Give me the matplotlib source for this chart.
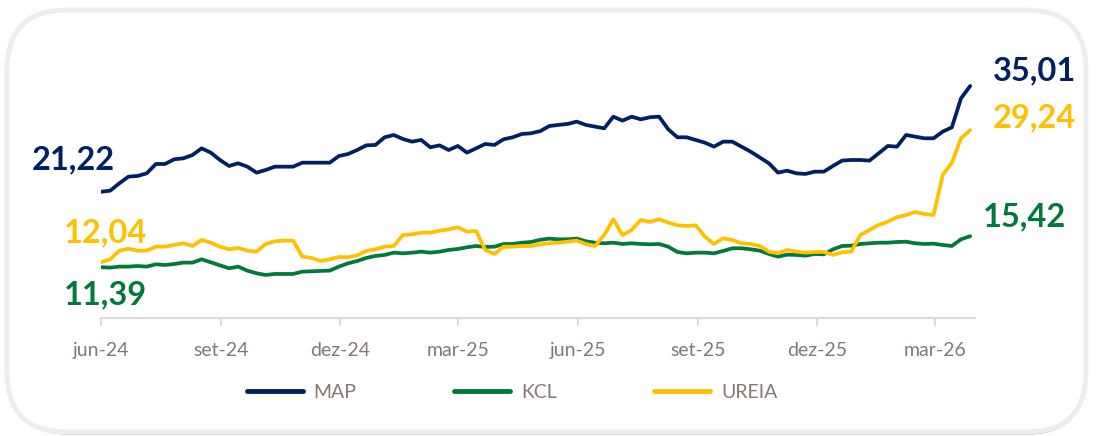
import matplotlib
matplotlib.use("Agg")
import matplotlib.pyplot as plt
from matplotlib.patches import FancyBboxPatch
import pandas as pd

# ---------------- data (weekly readings) ----------------
start_date = "2024-06-01"
n_points = 96

map_values = [
    21.22, 21.36, 22.32, 23.19, 23.28, 23.62, 24.84, 24.84, 25.45, 25.58,
    26.01, 26.88, 26.32, 25.36, 24.58, 24.93, 24.49, 23.71, 24.06, 24.49,
    24.49, 24.49, 25.01, 25.01, 25.01, 25.01, 25.88, 26.14, 26.66, 27.27,
    27.32, 28.32, 28.62, 28.10, 27.75, 27.97, 27.01, 27.27, 26.66, 27.19,
    26.32, 26.88, 27.45, 27.32, 28.06, 28.32, 28.75, 28.84, 29.12, 29.79,
    29.93, 30.06, 30.36, 29.93, 29.71, 29.49, 31.01, 30.49, 31.01, 30.66,
    30.93, 31.01, 29.36, 28.32, 28.32, 27.97, 27.62, 27.10, 27.75, 27.75,
    27.10, 26.45, 25.70, 24.93, 23.71, 23.97, 23.62, 23.54, 23.84, 23.84,
    24.58, 25.28, 25.36, 25.36, 25.28, 26.23, 27.19, 27.10, 28.62, 28.40,
    28.19, 28.19, 29.06, 29.62, 33.40, 35.01,
]

kcl_values = [
    11.39, 11.33, 11.46, 11.46, 11.54, 11.46, 11.76, 11.67, 11.80, 11.98,
    11.98, 12.41, 12.02, 11.63, 11.24, 11.46, 10.93, 10.59, 10.37, 10.50,
    10.50, 10.50, 10.80, 10.85, 10.90, 10.94, 11.46, 11.89, 12.19, 12.59,
    12.85, 12.98, 13.28, 13.19, 13.28, 13.41, 13.28, 13.41, 13.63, 13.76,
    13.98, 14.15, 14.02, 14.06, 14.41, 14.41, 14.58, 14.67, 14.95, 15.11,
    15.02, 15.02, 15.11, 14.76, 14.58, 14.50, 14.58, 14.41, 14.50, 14.41,
    14.37, 14.41, 14.06, 13.37, 13.19, 13.28, 13.28, 13.19, 13.50, 13.85,
    13.85, 13.72, 13.54, 13.11, 12.76, 13.02, 12.98, 12.89, 13.11, 13.06,
    13.71, 14.15, 14.19, 14.41, 14.50, 14.58, 14.58, 14.67, 14.71, 14.50,
    14.41, 14.45, 14.28, 14.15, 15.02, 15.42,
]

ureia_values = [
    12.04, 12.41, 13.54, 13.80, 13.54, 13.54, 14.06, 14.06, 14.28, 14.50,
    14.15, 14.93, 14.58, 14.06, 13.72, 13.89, 13.54, 13.41, 14.41, 14.76,
    14.85, 14.85, 12.76, 12.59, 12.20, 12.41, 12.72, 12.67, 12.93, 13.50,
    13.72, 14.06, 14.15, 15.58, 15.67, 15.89, 15.89, 16.15, 16.32, 16.58,
    16.02, 16.10, 13.63, 13.11, 14.06, 14.06, 14.15, 14.15, 14.35, 14.50,
    14.58, 14.71, 14.85, 14.41, 14.15, 15.58, 17.63, 15.58, 16.24, 17.54,
    17.28, 17.63, 17.19, 16.84, 16.76, 16.84, 15.37, 14.41, 15.15, 14.93,
    14.50, 14.41, 14.15, 13.41, 13.20, 13.63, 13.41, 13.28, 13.37, 13.37,
    12.98, 13.33, 13.41, 15.58, 16.24, 16.89, 17.32, 17.89, 18.19, 18.58,
    18.32, 18.19, 23.41, 25.01, 28.19, 29.24,
]

series_names = ["MAP", "KCL", "UREIA"]
series_colors = ["#002060", "#00793A", "#FFC000"]

tick_dates = ["2024-06-01", "2024-09-01", "2024-12-01", "2025-03-01",
              "2025-06-01", "2025-09-01", "2025-12-01", "2026-03-01"]
tick_labels = ["jun-24", "set-24", "dez-24", "mar-25",
               "jun-25", "set-25", "dez-25", "mar-26"]

# ---------------- figure ----------------
W, H = 1096, 436
fig = plt.figure(figsize=(W / 100, H / 100), dpi=100)
fig.patch.set_facecolor("white")

# rounded card with shadow (display/pixel coords)
shadow = FancyBboxPatch((10, 1), W - 20, H - 13,
                        boxstyle="round,pad=0,rounding_size=60",
                        transform=None, facecolor="#c4c4c4",
                        edgecolor="none", alpha=0.8, zorder=0)
fig.patches.append(shadow)
card = FancyBboxPatch((7, 4), W - 17, H - 14,
                      boxstyle="round,pad=0,rounding_size=60",
                      transform=None, facecolor="white",
                      edgecolor="#ededed", linewidth=3.5, zorder=1)
fig.patches.append(card)

ax = fig.add_axes([101 / W, 1 - 318 / H, 874 / W, (318 - 47.7) / H])
ax.set_facecolor("none")
ax.set_zorder(2)

dates = pd.date_range(start_date, periods=n_points, freq="7D")
all_values = [map_values, kcl_values, ureia_values]

lines = []
for vals, name, col in zip(all_values, series_names, series_colors):
    ln, = ax.plot(dates, vals, color=col, lw=2.7, label=name,
                  solid_joinstyle="round", solid_capstyle="round")
    lines.append(ln)

x0 = pd.Timestamp(start_date)
ax.set_xlim(x0, x0 + pd.Timedelta(days=668.7))
ax.set_ylim(4.76, 40)

for s in ["top", "right", "left"]:
    ax.spines[s].set_visible(False)
ax.spines["bottom"].set_color("#d9d9d9")
ax.spines["bottom"].set_linewidth(1.5)
ax.set_yticks([])
ax.set_xticks(pd.to_datetime(tick_dates))
ax.set_xticklabels(tick_labels)
ax.tick_params(axis="x", length=6, width=1.3, color="#d9d9d9",
               labelcolor="#857873", labelsize=14, pad=11)
for lab in ax.get_xticklabels():
    lab.set_fontfamily("Lato")

# value labels at start and end of each series
label_font = dict(fontfamily="Lato", fontweight="bold", fontsize=23.5)
px2pt = 0.72
start_offsets = [(14, 22), (46, -37), (46, 20)]   # MAP, KCL, UREIA (px)
end_offsets = [(23, 6), (13, 10), (23, 3)]
for vals, col, so, eo in zip(all_values, series_colors, start_offsets, end_offsets):
    first = f"{vals[0]:.2f}".replace(".", ",")
    last = f"{vals[-1]:.2f}".replace(".", ",")
    ax.annotate(first, xy=(dates[0], vals[0]),
                xytext=(so[0] * px2pt, so[1] * px2pt), textcoords="offset points",
                ha="right", va="baseline", color=col, annotation_clip=False,
                **label_font)
    ax.annotate(last, xy=(dates[-1], vals[-1]),
                xytext=(eo[0] * px2pt, eo[1] * px2pt), textcoords="offset points",
                ha="left", va="baseline", color=col, annotation_clip=False,
                **label_font)

leg = fig.legend(lines, series_names, loc="center",
                 bbox_to_anchor=(512 / W, 1 - 392 / H), ncol=3, frameon=False,
                 handlelength=2.9, handletextpad=0.55, columnspacing=5.0,
                 prop=dict(family="Lato", size=14))
for t in leg.get_texts():
    t.set_color("#857873")
for h in leg.legend_handles:
    h.set_linewidth(3.5)

fig.savefig("out.png", dpi=100, facecolor="white")
